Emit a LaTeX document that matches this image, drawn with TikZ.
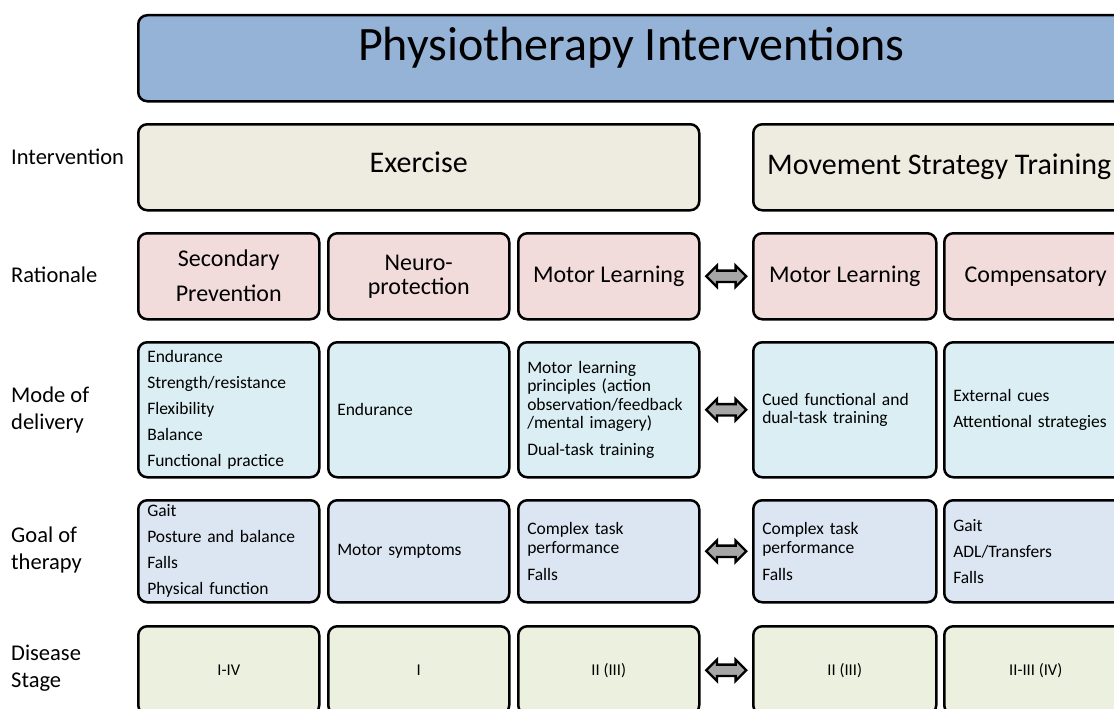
\documentclass[tikz,border=0pt]{standalone}
\usepackage{fontspec}
\setmainfont{Carlito}
\usetikzlibrary{shapes.arrows,calc}

\definecolor{headblue}{HTML}{95B3D7}
\definecolor{intbeige}{HTML}{EEECE1}
\definecolor{ratpink}{HTML}{F2DCDB}
\definecolor{modcyan}{HTML}{DAEEF3}
\definecolor{goalblue}{HTML}{DCE6F2}
\definecolor{stagegreen}{HTML}{EBF1DE}

\begin{document}
\begin{tikzpicture}[x=1pt,y=-1pt,
    box/.style={draw, line width=2.5pt, rounded corners=9pt, inner sep=0pt, anchor=north west, align=center},
    lst/.style={box, align=left, inner xsep=9pt},
    rowlbl/.style={anchor=west, align=left, inner sep=0pt, font=\fontsize{22.5}{27}\selectfont},
    swaparrow/.style={double arrow, draw, line width=2.4pt, fill=gray!70, minimum height=40pt, inner xsep=0pt, inner ysep=4.5pt, double arrow head extend=5pt}]

\useasboundingbox (0,0) rectangle (1114,709);
\clip (0,0) rectangle (1114,709);

% en-tete
\node[box, fill=headblue, minimum width=986pt, minimum height=86pt, text depth=28pt, font=\fontsize{48}{56}\selectfont] (head) at (137,14) {Physiotherapy Interventions};

% etiquettes des lignes
\node[rowlbl] (lint) at (11,157) {Intervention};
\node[rowlbl] (lrat) at (11,275) {Rationale};
\node[rowlbl] (lmod) at (11,410) {Mode of\\delivery};
\node[rowlbl] (lgoal) at (11,550) {Goal of\\therapy};
\node[rowlbl] (lstage) at (11,668) {Disease\\Stage};

% intervention
\node[box, fill=intbeige, minimum width=561pt, minimum height=86pt, text depth=10pt, font=\fontsize{30}{34}\selectfont] (ex) at (137,123) {Exercise};
\node[box, fill=intbeige, minimum width=372pt, minimum height=86pt, font=\fontsize{30}{34}\selectfont] (mst) at (752,123) {Movement Strategy Training};

% rationale
\begin{scope}[every node/.style={box, fill=ratpink, minimum height=86pt, font=\fontsize{24}{24}\selectfont}]
\node[minimum width=181pt] (r1) at (137,232) {Secondary\\[11pt]Prevention};
\node[minimum width=181pt] (r2) at (327,232) {Neuro-\\protection};
\node[minimum width=181pt] (r3) at (517,232) {Motor Learning};
\node[minimum width=183pt] (r4) at (752,232) {Motor Learning};
\node[minimum width=183pt] (r5) at (943,232) {Compensatory};
\end{scope}

% mode of delivery
\begin{scope}[every node/.style={lst, fill=modcyan, minimum height=135pt, font=\fontsize{17.5}{26}\selectfont}]
\node[text width=163pt] (m1) at (137,341) {Endurance\\Strength/resistance\\Flexibility\\Balance\\Functional practice};
\node[text width=163pt] (m2) at (327,341) {Endurance};
\node[text width=163pt, font=\fontsize{17.5}{18.5}\selectfont] (m3) at (517,341) {Motor learning\\principles (action\\observation/feedback\\/mental imagery)\\[8.5pt]Dual-task training};
\node[text width=165pt, font=\fontsize{17.5}{18.5}\selectfont] (m4) at (752,341) {Cued functional and\\dual-task training};
\node[text width=165pt] (m5) at (943,341) {External cues\\Attentional strategies};
\end{scope}

% goal of therapy
\begin{scope}[every node/.style={lst, fill=goalblue, minimum height=102pt, font=\fontsize{17.5}{26}\selectfont}]
\node[text width=163pt] (g1) at (137,499) {Gait\\Posture and balance\\Falls\\Physical function};
\node[text width=163pt] (g2) at (327,499) {Motor symptoms};
\node[text width=163pt, font=\fontsize{17.5}{18.5}\selectfont] (g3) at (517,499) {Complex task\\performance\\[8.5pt]Falls};
\node[text width=165pt, font=\fontsize{17.5}{18.5}\selectfont] (g4) at (752,499) {Complex task\\performance\\[8.5pt]Falls};
\node[text width=165pt] (g5) at (943,499) {Gait\\ADL/Transfers\\Falls};
\end{scope}

% disease stage
\begin{scope}[every node/.style={box, fill=stagegreen, minimum height=88pt, font=\fontsize{16.5}{20}\selectfont}]
\node[minimum width=181pt] (s1) at (137,625) {I-IV};
\node[minimum width=181pt] (s2) at (327,625) {I};
\node[minimum width=181pt] (s3) at (517,625) {II (III)};
\node[minimum width=183pt] (s4) at (752,625) {II (III)};
\node[minimum width=183pt] (s5) at (943,625) {II-III (IV)};
\end{scope}

\foreach \r in {r,m,g,s}
  \node[swaparrow] (sw\r) at ($(\r3.east)!0.5!(\r4.west)$) {};
\end{tikzpicture}
\end{document}
